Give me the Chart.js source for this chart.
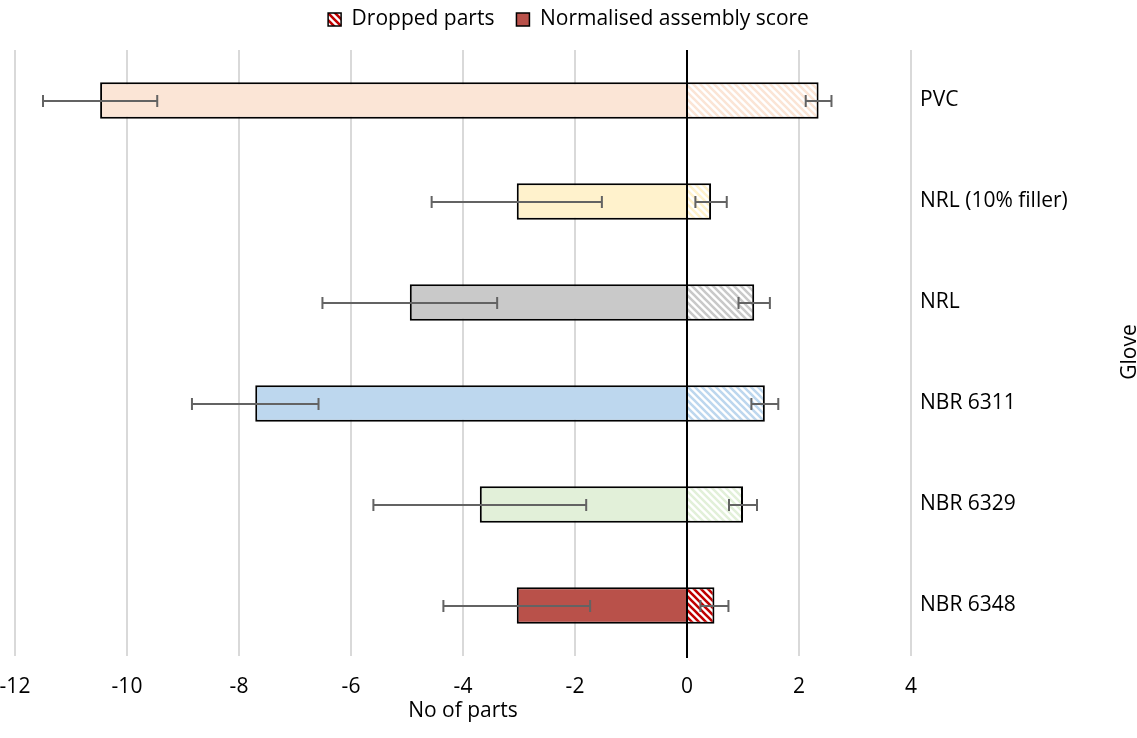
<!DOCTYPE html>
<html>
<head>
<meta charset="utf-8">
<script src="https://cdn.jsdelivr.net/npm/chart.js@4.4.1/dist/chart.umd.min.js"></script>
<style>
  html, body { margin: 0; padding: 0; background: #fff; }
  #wrap { width: 1137px; height: 738px; position: relative; }
</style>
</head>
<body>
<div id="wrap"><canvas id="c"></canvas></div>
<script>
// ---- Data ----
const categories = ['PVC', 'NRL (10% filler)', 'NRL', 'NBR 6311', 'NBR 6329', 'NBR 6348'];
const droppedParts = [2.35, 0.43, 1.20, 1.39, 1.00, 0.49];
const droppedErr = [0.23, 0.28, 0.28, 0.24, 0.25, 0.25];
const assemblyScore = [-10.48, -3.04, -4.95, -7.71, -3.70, -3.04];
const assemblyErr = [1.02, 1.52, 1.56, 1.13, 1.90, 1.31];
const xTicks = [-12, -10, -8, -6, -4, -2, 0, 2, 4];

// ---- Styles ----
const solidColors = ['#FBE5D6', '#FFF2CC', '#C9C9C9', '#BDD7EE', '#E2F0D9', '#B9514A'];
const stripeColors = ['#FBE5D6', '#FFF2CC', '#C9C9C9', '#BDD7EE', '#E2F0D9', '#C00000'];
const FONT = '"Open Sans", sans-serif';
const FS = 21;

function hatch(color) {
  const s = 7;
  const cv = document.createElement('canvas');
  cv.width = s; cv.height = s;
  const g = cv.getContext('2d');
  g.fillStyle = '#fff';
  g.fillRect(0, 0, s, s);
  g.strokeStyle = color;
  g.lineWidth = 2.6;
  g.beginPath();
  for (let k = -1; k <= 1; k++) {
    g.moveTo(k * s - 1, -1);
    g.lineTo(k * s + s + 1, s + 1);
  }
  g.stroke();
  return g.createPattern(cv, 'repeat');
}
const ctx0 = document.getElementById('c').getContext('2d');
const stripePatterns = stripeColors.map(hatch);

const legendSpace = {
  id: 'legendSpace',
  beforeLayout(chart) {
    const lg = chart.legend;
    if (lg && !lg._spacePatched) {
      lg._spacePatched = true;
      const origFit = lg.fit;
      lg.fit = function () { origFit.call(this); this.height += 10; };
    }
  }
};

const errorBars = {
  id: 'errorBars',
  afterDatasetsDraw(chart) {
    const ctx = chart.ctx;
    const xs = chart.scales.x;
    ctx.save();
    ctx.strokeStyle = '#636363';
    ctx.lineWidth = 2;
    const sets = [[0, droppedParts, droppedErr], [1, assemblyScore, assemblyErr]];
    sets.forEach(([di, vals, errs]) => {
      const meta = chart.getDatasetMeta(di);
      meta.data.forEach((bar, i) => {
        const y = Math.round(bar.y);
        const x1 = xs.getPixelForValue(vals[i] - errs[i]);
        const x2 = xs.getPixelForValue(vals[i] + errs[i]);
        ctx.beginPath();
        ctx.moveTo(x1, y); ctx.lineTo(x2, y);
        ctx.moveTo(x1, y - 6); ctx.lineTo(x1, y + 6);
        ctx.moveTo(x2, y - 6); ctx.lineTo(x2, y + 6);
        ctx.stroke();
      });
    });
    ctx.restore();
  }
};

const sideTitle = {
  id: 'sideTitle',
  afterDraw(chart) {
    const ctx = chart.ctx;
    ctx.save();
    ctx.translate(1130, 352);
    ctx.rotate(-Math.PI / 2);
    ctx.font = FS + 'px ' + FONT;
    ctx.fillStyle = '#000';
    ctx.textAlign = 'center';
    ctx.textBaseline = 'middle';
    ctx.fillText('Glove', 0, 0);
    ctx.restore();
  }
};

const zeroLine = {
  id: 'zeroLine',
  afterDatasetsDraw(chart) {
    const ctx = chart.ctx;
    const xs = chart.scales.x;
    const a = chart.chartArea;
    const x = Math.round(xs.getPixelForValue(0));
    ctx.save();
    ctx.strokeStyle = '#000';
    ctx.lineWidth = 2;
    ctx.beginPath();
    ctx.moveTo(x, a.top);
    ctx.lineTo(x, a.bottom + 2);
    ctx.stroke();
    ctx.restore();
  }
};

new Chart(ctx0, {
  type: 'bar',
  data: {
    labels: categories,
    datasets: [
      {
        label: 'Dropped parts',
        data: droppedParts,
        backgroundColor: stripePatterns,
        borderColor: '#000',
        borderWidth: 2,
        borderSkipped: 'start',
        barPercentage: 0.36,
        categoryPercentage: 1
      },
      {
        label: 'Normalised assembly score',
        data: assemblyScore,
        backgroundColor: solidColors,
        borderColor: '#000',
        borderWidth: 2,
        borderSkipped: 'start',
        barPercentage: 0.36,
        categoryPercentage: 1
      }
    ]
  },
  options: {
    indexAxis: 'y',
    responsive: true,
    maintainAspectRatio: false,
    animation: false,
    layout: { padding: { top: -13, left: 0, right: 0, bottom: 0 } },
    scales: {
      x: {
        stacked: true,
        min: -12,
        max: 4,
        afterBuildTicks(scale) { scale.ticks = xTicks.map(v => ({ value: v })); },
        afterFit(scale) { scale.height = 82; scale.paddingLeft = 15; scale.paddingRight = 0; },
        grid: { color: '#D9D9D9', lineWidth: 2, drawTicks: false },
        border: { display: false },
        ticks: { padding: 18, color: '#000', font: { family: FONT, size: FS } },
        title: { display: true, text: 'No of parts', color: '#000', font: { family: FONT, size: FS }, padding: { top: 0, bottom: 14 } }
      },
      y: {
        stacked: true,
        position: 'right',
        afterFit(scale) { scale.width = 226; },
        grid: { display: false, drawTicks: false },
        border: { display: false },
        ticks: { padding: 9, color: '#000', font: { family: FONT, size: FS } }
      }
    },
    plugins: {
      tooltip: { enabled: false },
      legend: {
        position: 'top',
        labels: {
          color: '#000',
          font: { family: FONT, size: FS },
          boxWidth: 13,
          boxHeight: 13,
          padding: 22,
          generateLabels() {
            return [
              { text: 'Dropped parts', fillStyle: stripePatterns[5], strokeStyle: '#000', lineWidth: 1.5, datasetIndex: 0, hidden: false },
              { text: 'Normalised assembly score', fillStyle: solidColors[5], strokeStyle: '#000', lineWidth: 1.5, datasetIndex: 1, hidden: false }
            ];
          }
        }
      }
    }
  },
  plugins: [legendSpace, errorBars, zeroLine, sideTitle]
});
</script>
</body>
</html>
